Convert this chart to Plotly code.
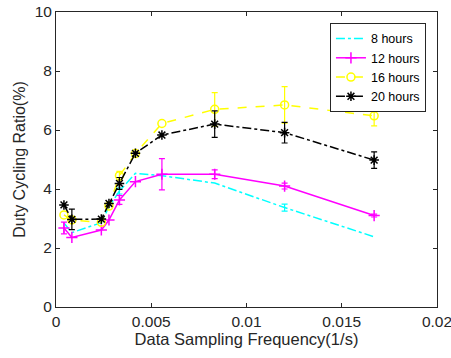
import plotly.graph_objects as go

freq = [0.000417, 0.000833, 0.00238, 0.00278, 0.00333, 0.00417, 0.00556, 0.00833, 0.0120, 0.0167]

y8 = [2.85, 2.52, 2.86, 3.40, 3.93, 4.53, 4.45, 4.20, 3.37, 2.38]
e8 = [0, 0, 0, 0, 0.1, 0, 0, 0, 0.12, 0]
y12 = [2.68, 2.36, 2.61, 2.95, 3.63, 4.25, 4.50, 4.50, 4.10, 3.10]
e12 = [0.2, 0, 0, 0, 0.15, 0, 0.53, 0.15, 0.1, 0.05]
y16 = [3.12, 2.95, 2.87, 3.42, 4.45, 5.20, 6.22, 6.70, 6.85, 6.48]
e16 = [0, 0, 0, 0, 0.15, 0, 0, 0.57, 0.62, 0.34]
y20 = [3.46, 2.97, 2.98, 3.51, 4.19, 5.21, 5.83, 6.20, 5.91, 4.98]
e20 = [0, 0.35, 0, 0, 0.2, 0, 0, 0.45, 0.35, 0.28]

names = ["8 hours", "12 hours", "16 hours", "20 hours"]
colors = ["#00FFFF", "#FF00FF", "#FFFF00", "#000000"]
dashes = ["dashdot", "solid", "dash", "dashdot"]
symbols = [None, "cross-thin-open", "circle-open", "asterisk-open"]

FONT = "Liberation Sans, Arial, sans-serif"

fig = go.Figure()
for ys, es, nm, c, d, s in zip([y8, y12, y16, y20], [e8, e12, e16, e20], names, colors, dashes, symbols):
    xs = [x for x, e in zip(freq, es) if e > 0]
    yy = [y for y, e in zip(ys, es) if e > 0]
    ee = [e for e in es if e > 0]
    fig.add_trace(go.Scatter(x=xs, y=yy, mode="markers", marker=dict(size=0.1, color=c, opacity=0),
                             error_y=dict(type="data", array=ee, color=c, thickness=1.2, width=3),
                             showlegend=False, hoverinfo="skip"))
    if s is None:
        fig.add_trace(go.Scatter(x=freq, y=ys, mode="lines", name=nm,
                                 line=dict(color=c, width=1.5, dash=d)))
    else:
        fig.add_trace(go.Scatter(x=freq, y=ys, mode="lines+markers", name=nm,
                                 line=dict(color=c, width=1.5, dash=d),
                                 marker=dict(symbol=s, size=8, color=c, line=dict(color=c, width=1.5))))

axis_common = dict(showgrid=False, zeroline=False, showline=True, linecolor="#262626", linewidth=1,
                   mirror="ticks", ticks="inside", ticklen=4, tickcolor="#262626",
                   ticklabeloverflow="allow", automargin=False,
                   tickfont=dict(family=FONT, size=15.5, color="#262626"))

fig.update_layout(
    width=451, height=358,
    margin=dict(l=56, r=14, t=12, b=51, autoexpand=False),
    plot_bgcolor="white", paper_bgcolor="white",
    xaxis=dict(range=[0, 0.02], tickvals=[0, 0.005, 0.01, 0.015, 0.02],
               ticktext=["0", "0.005", "0.01", "0.015", "0.02"],
               title=dict(text="Data Sampling Frequency(1/s)", standoff=3,
                          font=dict(family=FONT, size=16.5, color="#262626")),
               **axis_common),
    yaxis=dict(range=[0, 10], tickvals=[0, 2, 4, 6, 8, 10],
               title=dict(text="Duty Cycling Ratio(%)", standoff=5,
                          font=dict(family=FONT, size=16, color="#262626")),
               **axis_common),
    legend=dict(x=0.971, y=0.963, xanchor="right", yanchor="top", bgcolor="white",
                bordercolor="#262626", borderwidth=1,
                font=dict(family=FONT, size=12.5, color="#000000"),
                tracegroupgap=0, itemwidth=30),
)

fig.write_html("out.html")
